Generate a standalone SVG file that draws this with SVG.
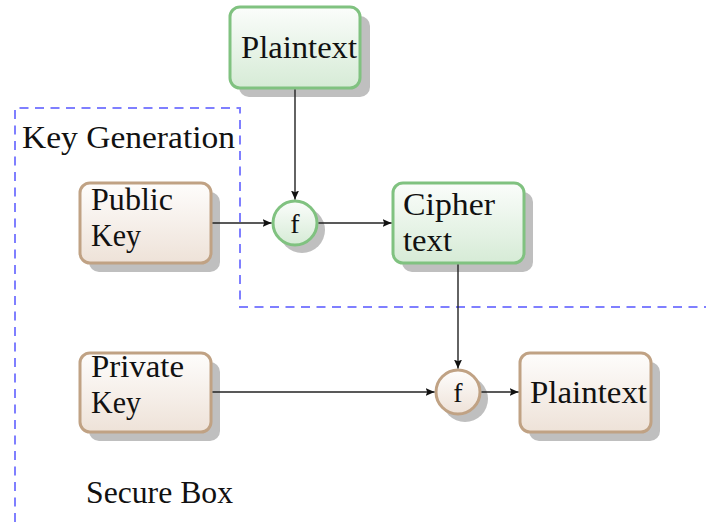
<svg xmlns="http://www.w3.org/2000/svg" width="706" height="522" viewBox="0 0 706 522">
<defs>
<linearGradient id="gGreen" x1="0" y1="0" x2="0" y2="1"><stop offset="0" stop-color="#fbfdfb"/><stop offset="1" stop-color="#d6ebd6"/></linearGradient>
<linearGradient id="gBrown" x1="0" y1="0" x2="0" y2="1"><stop offset="0" stop-color="#fefdfc"/><stop offset="1" stop-color="#eee2d8"/></linearGradient>
<filter id="blur" x="-20%" y="-20%" width="140%" height="140%"><feGaussianBlur stdDeviation="0.6"/></filter>
<marker id="arr" viewBox="0 0 10 10" refX="10" refY="5" markerWidth="9" markerHeight="9" markerUnits="userSpaceOnUse" orient="auto"><path d="M0,0.5 L10,5 L0,9.5 L2,5 Z" fill="#111"/></marker>
</defs>
<style>
.shadow{fill:#bfbfbf;filter:url(#blur)}
.green{fill:url(#gGreen);stroke:#80c280;stroke-width:3}
.brown{fill:url(#gBrown);stroke:#c0a284;stroke-width:3}
.t{font-family:"Liberation Serif","Times New Roman",serif;font-size:32px;fill:#111}
.f{font-family:"Liberation Serif","Times New Roman",serif;font-size:28px;fill:#111;text-anchor:middle}
.conn{stroke:#222;stroke-width:1.4;fill:none;marker-end:url(#arr)}
.dash{stroke:#7f7fff;stroke-width:2;fill:none;stroke-dasharray:9 6.5}
</style>
<g id="region">
<path class="dash" d="M15,522 L15,108 L240,108 L240,307 L706,307"/>
<text class="t" x="22" y="148" textLength="213" lengthAdjust="spacingAndGlyphs">Key Generation</text>
<text class="t" x="86" y="503" textLength="147" lengthAdjust="spacingAndGlyphs">Secure Box</text>
</g>
<g id="plaintext-top">
<rect class="shadow" x="239" y="16" width="131" height="81" rx="10"/>
<rect class="green" x="230" y="7" width="130" height="81" rx="10"/>
<text class="t" x="241" y="58" textLength="116" lengthAdjust="spacingAndGlyphs">Plaintext</text>
</g>
<g id="public-key">
<rect class="shadow" x="89" y="192" width="131" height="80" rx="10"/>
<rect class="brown" x="80" y="183" width="131" height="80" rx="10"/>
<text class="t" x="91" y="210" textLength="82" lengthAdjust="spacingAndGlyphs">Public</text>
<text class="t" x="91" y="246" textLength="50" lengthAdjust="spacingAndGlyphs">Key</text>
</g>
<g id="f-encrypt">
<circle class="shadow" cx="302" cy="230" r="23"/>
<circle class="green" cx="295" cy="223" r="22"/>
<text class="f" x="295" y="233">f</text>
</g>
<g id="cipher-text">
<rect class="shadow" x="402" y="192" width="131" height="80" rx="10"/>
<rect class="green" x="393" y="183" width="131" height="80" rx="10"/>
<text class="t" x="403" y="215" textLength="92" lengthAdjust="spacingAndGlyphs">Cipher</text>
<text class="t" x="403" y="251" textLength="49" lengthAdjust="spacingAndGlyphs">text</text>
</g>
<g id="private-key">
<rect class="shadow" x="89" y="362" width="131" height="79" rx="10"/>
<rect class="brown" x="80" y="353" width="131" height="79" rx="10"/>
<text class="t" x="91" y="377" textLength="93" lengthAdjust="spacingAndGlyphs">Private</text>
<text class="t" x="91" y="413" textLength="50" lengthAdjust="spacingAndGlyphs">Key</text>
</g>
<g id="f-decrypt">
<circle class="shadow" cx="465" cy="399" r="23"/>
<circle class="brown" cx="458" cy="392" r="22"/>
<text class="f" x="458" y="402">f</text>
</g>
<g id="plaintext-bottom">
<rect class="shadow" x="529" y="362" width="131" height="79" rx="10"/>
<rect class="brown" x="520" y="353" width="131" height="79" rx="10"/>
<text class="t" x="530" y="403" textLength="117" lengthAdjust="spacingAndGlyphs">Plaintext</text>
</g>
<g id="connectors">
<path class="conn" d="M295,89.5 L295,199.5"/>
<path class="conn" d="M212.5,223 L271.5,223"/>
<path class="conn" d="M318.5,223 L391.5,223"/>
<path class="conn" d="M458,264.5 L458,368.5"/>
<path class="conn" d="M212.5,392 L434.5,392"/>
<path class="conn" d="M481.5,392 L518.5,392"/>
</g>
</svg>
